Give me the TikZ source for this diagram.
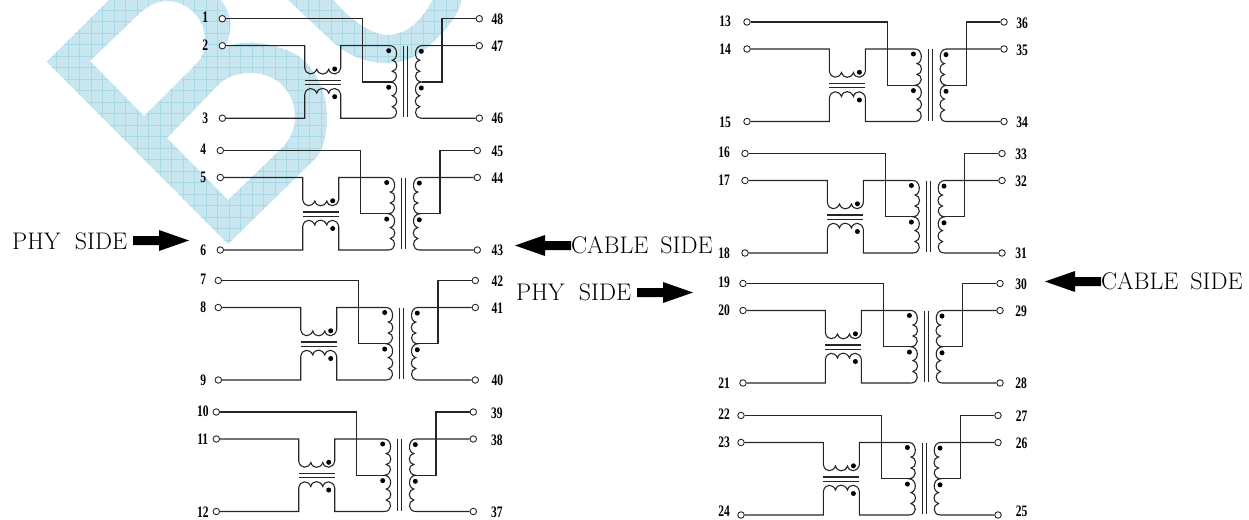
\documentclass[tikz,border=0pt]{standalone}
\usepackage{fontspec}
\setmainfont{Liberation Serif}
\newfontfamily\lbl{Latin Modern Roman}
\definecolor{wm}{RGB}{200,230,239}
\definecolor{wmg}{RGB}{170,217,230}
\tikzset{
 wire/.style={line width=1.1pt,black!85,line join=miter},
 pin/.style={circle,draw=black!85,line width=.9pt,fill=white,inner sep=0pt,minimum size=6.5pt},
 num/.style={font=\bfseries\fontsize{16}{16}\selectfont,inner sep=0pt,xscale=.72},
 dotm/.style={circle,fill=black,inner sep=0pt,minimum size=5pt},
 side/.style={font=\lbl\fontsize{24}{24}\selectfont,inner sep=0pt,anchor=west},
 bigarrow/.style={fill=black,draw=none}
}
\newcommand{\wmB}{
 (46.7,61.7) -- (110,-1) -- (220,-1) .. controls (228,8) and (232,22) .. (230,30)
 .. controls (229,37) and (227,44) .. (225,48)
 .. controls (235,43) and (246,42) .. (257,43)
 .. controls (275,45) and (290,50) .. (300,57)
 .. controls (318,72) and (327,95) .. (327,117)
 .. controls (327,132) and (324,147) .. (317,157) -- (228,244) -- cycle
 (90,61) -- (144,116) -- (197,63) .. controls (204,55) and (206,46) .. (205,37)
 .. controls (203,15) and (185,1) .. (167,1) .. controls (157,1) and (148,6) .. (140,13) -- cycle
 (167,138) -- (228,200) -- (283,147) .. controls (291,138) and (295,128) .. (295,117)
 .. controls (295,104) and (290,92) .. (280,83)
 .. controls (270,75) and (260,73) .. (250,73) .. controls (239,73) and (229,76) .. (220,83) -- cycle}
\newcommand{\wmC}{
 (287,-1) -- (335,44) .. controls (352,58) and (370,63) .. (387,63)
 .. controls (405,63) and (420,55) .. (430,45)
 .. controls (447,30) and (458,15) .. (462,-1) -- (433,-1)
 .. controls (425,15) and (410,35) .. (387,35) .. controls (370,35) and (345,15) .. (333,-1) -- cycle}
\newcommand{\lo}{-17}
\newcommand{\ro}{275}
\newcommand{\bo}{100}
\newcommand{\xfmr}[8]{
\begin{scope}[shift={(#1,#2)}]
\node[pin] (p#3) at (0,0) {};
\node[pin] (p#4) at (0,27) {};
\node[pin] (p#5) at (0,99.5) {};
\node[pin] (p#6) at (257,0) {};
\node[pin] (p#7) at (257,27) {};
\node[pin] (p#8) at (257,99.5) {};
\node[num] at (\lo,-1) {#3};
\node[num] at (\lo,27) {#4};
\node[num] at (\lo,\bo) {#5};
\node[num] at (\ro,1) {#6};
\node[num] at (\ro,28) {#7};
\node[num] at (\ro,\bo) {#8};
\coordinate (t#3) at (140.4,63.3);
\coordinate (v#3) at (118.4,27);
\draw[wire] (p#3) -| (t#3) -- ++(28,0);
\draw[wire] (p#4) -| (82.4,49)
  .. controls (83.5,57) and (92,57) .. (94.5,50.5)
  .. controls (96.5,57) and (104,57) .. (106.5,50.5)
  .. controls (108,57) and (117,57) .. (118.4,49) -- (v#3) -- (168,27)
  .. controls (176,27) and (176,41) .. (170,41.5)
  .. controls (176,42) and (176,52) .. (170,52.5)
  .. controls (176,53) and (176,62.5) .. (168,63.3)
  .. controls (176,63.5) and (176,76) .. (170,77)
  .. controls (176,78) and (176,87) .. (170,88)
  .. controls (176,89) and (176,99.5) .. (168,99.5) -- (118.4,99.5) -- (118.4,76)
  .. controls (117,68) and (108,68) .. (106.5,74.5)
  .. controls (104,68) and (96,68) .. (94.5,74.5)
  .. controls (92,68) and (83.5,68) .. (82.4,76) -- (82.4,99.5) -- (p#5);
\draw[wire] (82.4,61.5) -- (118.4,61.5) (82.4,65.8) -- (118.4,65.8);
\draw[wire] (181.4,27) -- (181.4,98.5) (185.4,27) -- (185.4,98.5);
\draw[wire] (p#7) -- (199.4,27)
  .. controls (191.5,27) and (191.5,41) .. (197.5,41.5)
  .. controls (191.5,42) and (191.5,52) .. (197.5,52.5)
  .. controls (191.5,53) and (191.5,62.5) .. (199.4,63.3)
  .. controls (191.5,63.5) and (191.5,76) .. (197.5,77)
  .. controls (191.5,78) and (191.5,87) .. (197.5,88)
  .. controls (191.5,89) and (191.5,99.5) .. (199.4,99.5) -- (p#8);
\draw[wire] (p#6) -| (219.7,63.3) -- (199.4,63.3);
\node[dotm] at (112.4,50.3) {};
\node[dotm] at (112.4,78) {};
\node[dotm] at (166.4,32) {};
\node[dotm] at (166.4,68.6) {};
\node[dotm] at (199,32.6) {};
\node[dotm] at (199,69.3) {};
\end{scope}}
\begin{document}
\begin{tikzpicture}[x=1pt,y=-1pt]
\useasboundingbox (0,0) rectangle (1249,519);
\begin{scope}
\clip (0,0) rectangle (1249,519);
\fill[wm,even odd rule] \wmB;
\fill[wm] \wmC;
\begin{scope}[even odd rule]
\clip \wmB;
\foreach \i in {0,...,30} {\draw[wmg,line width=.7pt] (45+\i*11.5,-1) -- (45+\i*11.5,250);}
\foreach \i in {0,...,22} {\draw[wmg,line width=.7pt] (40,10+\i*11.5) -- (335,10+\i*11.5);}
\end{scope}
\begin{scope}
\clip \wmC;
\foreach \i in {0,...,16} {\draw[wmg,line width=.7pt] (285+\i*11.5,-1) -- (285+\i*11.5,70);}
\foreach \i in {0,...,5} {\draw[wmg,line width=.7pt] (285,10+\i*11.5) -- (465,10+\i*11.5);}
\end{scope}
\end{scope}
\xfmr{222.3}{18.7}{1}{2}{3}{48}{47}{46}
\renewcommand{\ro}{277}
\xfmr{220.3}{150.5}{4}{5}{6}{45}{44}{43}
\renewcommand{\lo}{-15}\renewcommand{\ro}{279}
\xfmr{218.3}{280.5}{7}{8}{9}{42}{41}{40}
\renewcommand{\lo}{-13.5}\renewcommand{\ro}{280.5}
\xfmr{216.3}{412}{10}{11}{12}{39}{38}{37}
\renewcommand{\lo}{-22}\renewcommand{\ro}{275}
\xfmr{747}{22}{13}{14}{15}{36}{35}{34}
\renewcommand{\lo}{-21}\renewcommand{\ro}{276}
\xfmr{745}{153.5}{16}{17}{18}{33}{32}{31}
\renewcommand{\lo}{-19}\renewcommand{\ro}{278}
\xfmr{743}{283.5}{19}{20}{21}{30}{29}{28}
\renewcommand{\lo}{-17}\renewcommand{\ro}{280.5}\renewcommand{\bo}{96}
\xfmr{741}{415.5}{22}{23}{24}{27}{26}{25}
\node[side] (a) at (12,241) {PHY\hspace{.6em}SIDE};
\node[side] (b) at (571,245.5) {CABLE\hspace{.5em}SIDE};
\node[side] (c) at (516,292) {PHY\hspace{.6em}SIDE};
\node[side] (d) at (1101,281) {CABLE\hspace{.5em}SIDE};
\fill[bigarrow] (133,236) -- (159,236) -- (159,230) -- (189,240.5) -- (159,251) -- (159,245) -- (133,245) -- cycle;
\fill[bigarrow] (571,241) -- (545,241) -- (545,235) -- (515,245.5) -- (545,256) -- (545,250) -- (571,250) -- cycle;
\fill[bigarrow] (637,288) -- (663,288) -- (663,282) -- (693,292.5) -- (663,303) -- (663,297) -- (637,297) -- cycle;
\fill[bigarrow] (1101,277) -- (1075,277) -- (1075,271) -- (1045,281.5) -- (1075,292) -- (1075,286) -- (1101,286) -- cycle;
\end{tikzpicture}
\end{document}
